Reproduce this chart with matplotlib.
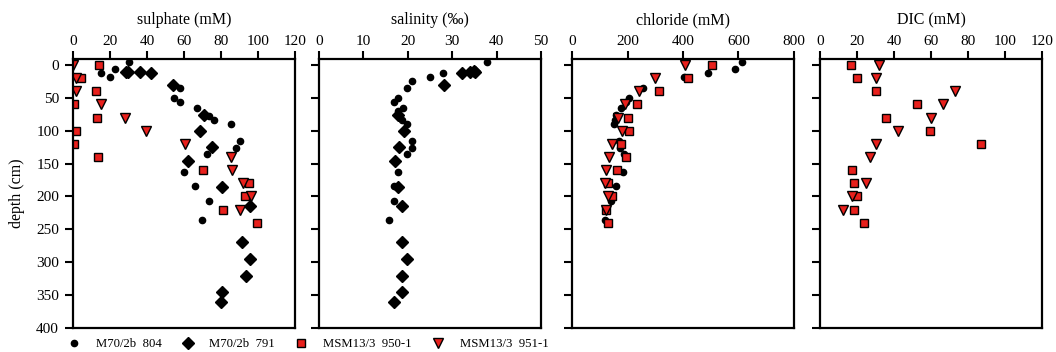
import matplotlib.pyplot as plt
import numpy as np

plt.rcParams['font.family'] = ['Liberation Serif', 'DejaVu Serif']

# sulphate (mM)
so4_804_d = [-4, 12.7, 18.8, 6.6, 35.6, 50.9, 57, 65.6, 77.8, 83, 90.5, 115.5, 126.7, 135.3, 162.8, 184, 206.5, 235.5]
so4_804 = [30.1, 15.3, 19.8, 22.9, 57.7, 54.5, 57.7, 66.8, 73.6, 76.1, 85.3, 90.4, 88.2, 72.2, 60.1, 66.0, 73.6, 69.7]
so4_791_d = [10.2, 10.2, 11.2, 12.7, 30.5, 75.8, 100.2, 125, 145.5, 185.7, 214, 270, 295.5, 321, 345.4, 360.6]
so4_791 = [28.9, 29.8, 36.4, 42.4, 53.8, 70.8, 68.6, 74.9, 61.9, 80.6, 95.6, 91.3, 95.8, 93.6, 80.8, 79.8]
so4_950_d = [0, 20, 40, 60, 80, 100, 120, 140, 160, 180, 200, 220, 240]
so4_950 = [14.1, 4.3, 12.5, 0.4, 13.2, 1.4, 0.5, 13.7, 70.4, 95.1, 93.1, 81.0, 99.2]
so4_951_d = [0, 20, 40, 60, 80, 100, 120, 140, 160, 180, 200, 220]
so4_951 = [0.0, 1.4, 1.8, 15.0, 28.3, 39.3, 60.5, 85.3, 86.1, 92.0, 96.2, 90.4]

# salinity
sal_804_d = [-4.6, 12.7, 18.8, 24.4, 35.6, 50.4, 56.5, 65.6, 70.7, 83, 90.5, 115.5, 126.7, 135.3, 162.8, 184, 206.5, 235.5]
sal_804 = [37.8, 27.9, 24.9, 20.9, 19.8, 17.9, 16.9, 18.9, 17.8, 18.8, 19.9, 20.9, 20.9, 19.9, 17.9, 16.9, 16.9, 15.8]
sal_791_d = [12.7, 10.2, 8.6, 10.7, 30.5, 76.3, 100.2, 125, 145.5, 185.7, 214, 270, 295.5, 321, 345.4, 360.6]
sal_791 = [32.2, 33.9, 34.8, 35.1, 28.2, 17.9, 19.2, 18.1, 17.1, 17.9, 18.8, 18.8, 19.8, 18.8, 18.7, 16.9]

# chloride (mM)
cl_804_d = [-4.6, 6.6, 12.7, 18.8, 35.6, 50.4, 56, 65.6, 76.3, 83, 90.5, 115.5, 126.7, 135.3, 162.8, 184, 206.5, 235.5]
cl_804 = [612, 587, 490, 404, 256, 207, 193, 176, 158, 155, 151, 169, 172, 187, 183, 158, 139, 118]
cl_950_d = [0, 20, 40, 60, 80, 100, 120, 140, 160, 180, 200, 220, 240]
cl_950 = [504, 417, 312, 233, 201, 204, 176, 193, 163, 128, 145, 123, 131]
cl_951_d = [0, 20, 40, 60, 80, 100, 120, 140, 160, 180, 200, 220]
cl_951 = [409, 300, 243, 192, 166, 179, 143, 135, 122, 120, 128, 122]

# DIC (mM)
dic_950_d = [0, 20, 40, 60, 80, 100, 120, 160, 180, 200, 220, 240]
dic_950 = [17.0, 20.2, 30.3, 52.7, 35.7, 59.4, 87.2, 17.3, 18.2, 19.9, 18.2, 23.6]
dic_951_d = [0, 20, 40, 60, 80, 100, 120, 140, 180, 200, 220]
dic_951 = [31.9, 30.0, 72.9, 66.6, 59.9, 42.4, 30.3, 27.1, 24.7, 17.1, 12.3]

titles = ['sulphate (mM)', 'salinity (\u2030)', 'chloride (mM)', 'DIC (mM)']
xmax = [120, 50, 800, 120]
xstep = [20, 10, 200, 20]
lefts = [73, 319, 572, 820]

red = '#e8201c'
sty = {
    '804': dict(marker='o', color='black', ms=4.5, ls='none', mec='black'),
    '791': dict(marker='D', color='black', ms=6.5, ls='none', mec='black'),
    '950': dict(marker='s', color=red, ms=6, ls='none', mec='black', mew=1),
    '951': dict(marker='v', color=red, ms=7, ls='none', mec='black', mew=1),
}

fig = plt.figure(figsize=(10.56, 3.52), dpi=100)
axes = []
for i in range(4):
    ax = fig.add_axes([lefts[i] / 1056, 1 - 328 / 352, 222 / 1056, 269 / 352])
    axes.append(ax)
    ax.set_xlim(0, xmax[i])
    ax.set_ylim(400, -9)
    ax.set_xticks(np.arange(0, xmax[i] + 1, xstep[i]))
    ax.set_yticks(np.arange(0, 401, 50))
    ax.xaxis.tick_top()
    ax.tick_params(axis='both', direction='out', length=6, width=1.5, labelsize=11, pad=2)
    ax.tick_params(axis='y', pad=4)
    if i > 0:
        ax.set_yticklabels([])
    for s in ax.spines.values():
        s.set_linewidth(1.6)
    ax.set_title(titles[i], fontsize=11.5, pad=25)

ax = axes[0]
ax.plot(so4_804, so4_804_d, **sty['804'], label='M70/2b  804')
ax.plot(so4_791, so4_791_d, **sty['791'], label='M70/2b  791')
ax.plot(so4_950, so4_950_d, **sty['950'], label='MSM13/3  950-1')
ax.plot(so4_951, so4_951_d, **sty['951'], label='MSM13/3  951-1')
ax.set_ylabel('depth (cm)', fontsize=11.5, labelpad=8)

axes[1].plot(sal_804, sal_804_d, **sty['804'])
axes[1].plot(sal_791, sal_791_d, **sty['791'])

axes[2].plot(cl_804, cl_804_d, **sty['804'])
axes[2].plot(cl_950, cl_950_d, **sty['950'])
axes[2].plot(cl_951, cl_951_d, **sty['951'])

axes[3].plot(dic_950, dic_950_d, **sty['950'])
axes[3].plot(dic_951, dic_951_d, **sty['951'])

h, l = axes[0].get_legend_handles_labels()
fig.legend(h, l, loc='center left', bbox_to_anchor=(67.5 / 1056, 1 - 344 / 352), ncol=4,
           frameon=False, fontsize=9.2, handletextpad=1.2, columnspacing=1.55,
           handlelength=1.0, borderpad=0, borderaxespad=0)

fig.savefig('out.png', dpi=100)
